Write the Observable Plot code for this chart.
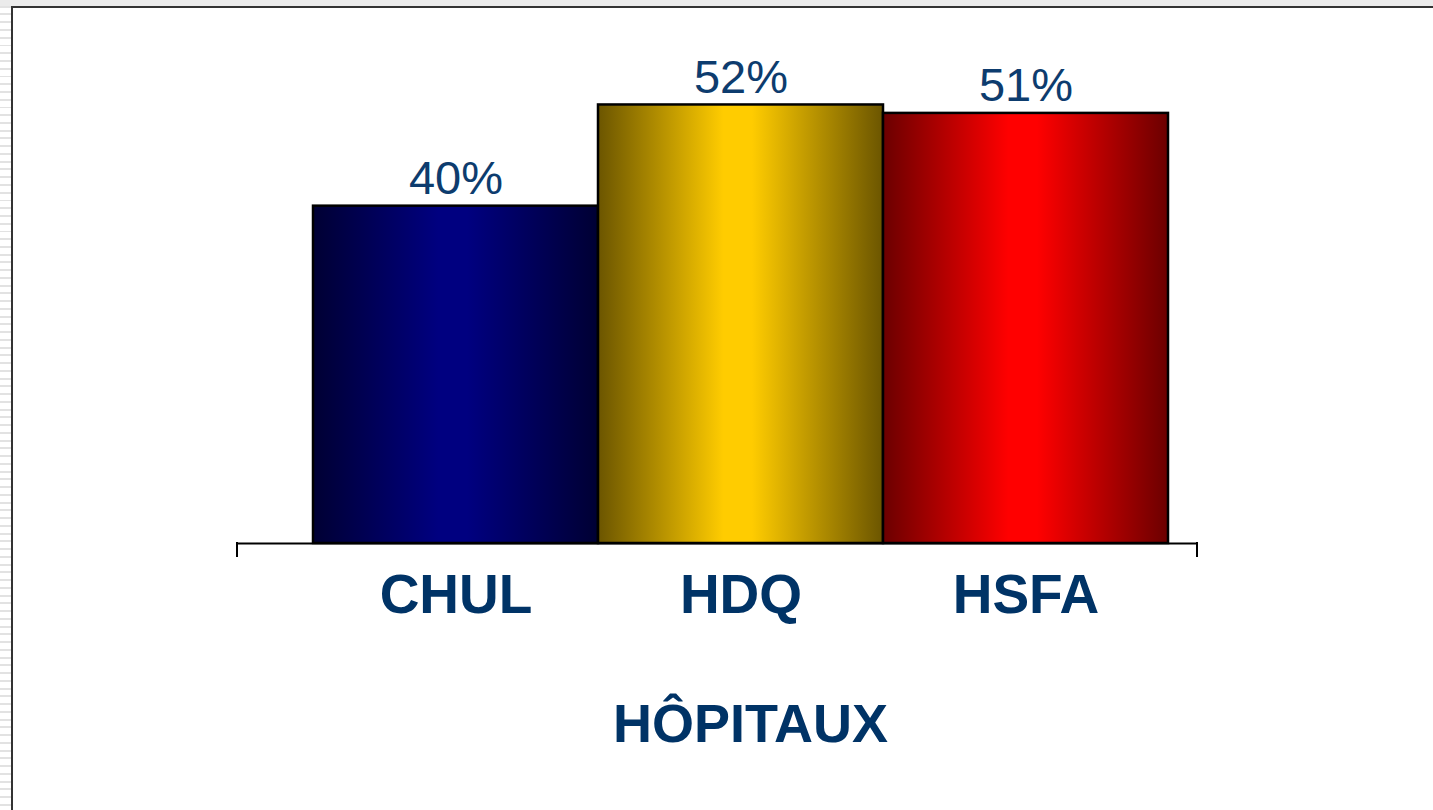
<!DOCTYPE html>
<html><head><meta charset="utf-8">
<script src="https://cdn.jsdelivr.net/npm/d3@7"></script>
<script src="https://cdn.jsdelivr.net/npm/@observablehq/plot@0.6"></script>
<style>
html,body{margin:0;padding:0;width:1433px;height:810px;overflow:hidden;background:#fff;}
#stripes{position:absolute;left:0;top:0;width:1433px;height:810px;background:repeating-linear-gradient(to bottom,#fff 0px,#fff 5.75px,#e2e2e2 5.75px,#e2e2e2 7.75px);}
#topband{position:absolute;left:0;top:0;width:1433px;height:6px;background:#ebebeb;}
#panel{position:absolute;left:11px;top:6px;width:1422px;height:804px;background:#fff;border-left:2px solid #333;border-top:2px solid #333;box-sizing:border-box;}
#chart{position:absolute;left:0;top:0;}
</style></head><body>
<div id="stripes"></div><div id="topband"></div><div id="panel"></div>
<div id="chart"></div>
<script>
const hospitals = ["CHUL", "HDQ", "HSFA"];
const percents = [40, 52, 51];
const edgeColors = ["#000033", "#6b5500", "#6b0000"];
const centerColors = ["#000080", "#ffcc00", "#ff0000"];
const axisTitle = "HÔPITAUX";

const data = hospitals.map((h, i) => ({hospital: h, value: percents[i], grad: `url(#grad-${i})`}));

const endTicks = (index, scales, values, dims) => {
  const y0 = scales.y(0);
  const g = d3.create("svg:g");
  for (const x of [dims.marginLeft, dims.width - dims.marginRight]) {
    g.append("line").attr("x1", x).attr("x2", x).attr("y1", y0 - 1).attr("y2", y0 + 14)
      .attr("stroke", "#000").attr("stroke-width", 2);
  }
  return g.node();
};

const plot = Plot.plot({
  width: 1433, height: 810,
  marginLeft: 237, marginRight: 236, marginTop: 37, marginBottom: 267,
  style: {background: "transparent", fontFamily: "'Liberation Sans', Arial, sans-serif", color: "#003366"},
  x: {domain: hospitals, padding: 0, insetLeft: 75, insetRight: 29},
  y: {domain: [0, 60], axis: null},
  color: {type: "identity"},
  marks: [
    Plot.barY(data, {x: "hospital", y: "value", fill: "grad", stroke: "#000", strokeWidth: 2.5}),
    Plot.ruleY([0], {stroke: "#000", strokeWidth: 2}),
    endTicks,
    Plot.text(data, {x: "hospital", y: "value", text: d => d.value + "%", lineAnchor: "bottom", dy: -12, fontSize: 47, fill: "#0d3c6e"}),
    Plot.axisX({tickSize: 0, tickPadding: 30, fontSize: 55, fontWeight: "bold", color: "#003366", fill: "#003366", label: null}),
    Plot.text([axisTitle], {frameAnchor: "bottom", lineAnchor: "top", dy: 160, dx: 33, fontSize: 54, fontWeight: "bold", fill: "#003366"})
  ]
});

const svg = d3.select(plot);
const defs = svg.insert("defs", ":first-child");
hospitals.forEach((h, i) => {
  const g = defs.append("linearGradient").attr("id", `grad-${i}`)
    .attr("x1", "0%").attr("x2", "100%").attr("y1", "0%").attr("y2", "0%");
  g.append("stop").attr("offset", "0%").attr("stop-color", edgeColors[i]);
  g.append("stop").attr("offset", "44%").attr("stop-color", centerColors[i]);
  g.append("stop").attr("offset", "54%").attr("stop-color", centerColors[i]);
  g.append("stop").attr("offset", "100%").attr("stop-color", edgeColors[i]);
});
document.getElementById("chart").appendChild(plot);
</script>
</body></html>
